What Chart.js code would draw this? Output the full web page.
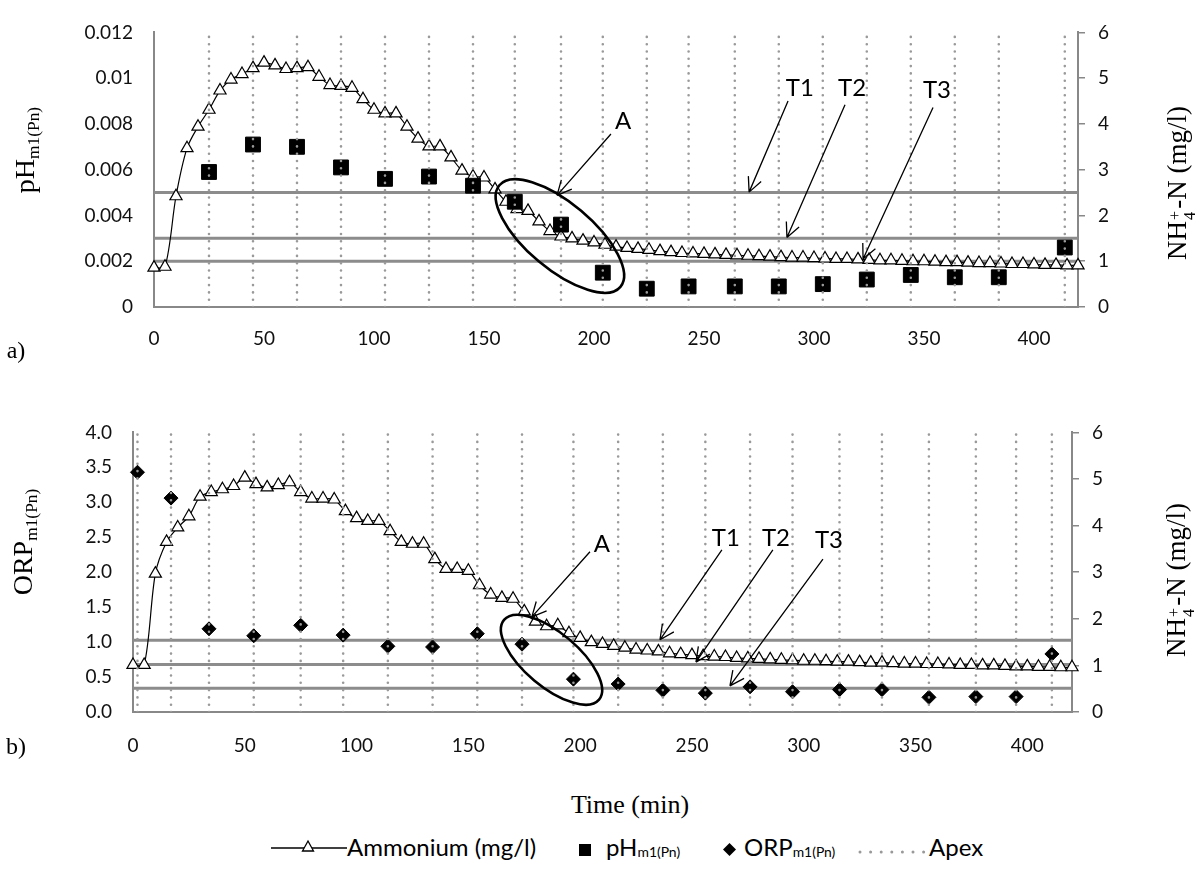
<!DOCTYPE html>
<html>
<head>
<meta charset="utf-8">
<script src="https://cdn.jsdelivr.net/npm/chart.js@4.4.1/dist/chart.umd.min.js"></script>
<style>
body { margin: 0; background: #fff; }
#page { position: relative; width: 1202px; height: 874px; overflow: hidden; font-family: Lato, sans-serif; }
canvas { position: absolute; left: 0; }
#chartA { top: 0; }
#chartB { top: 400px; }
.serif { position: absolute; font-family: "Liberation Serif", "Times New Roman", serif; color: #000; white-space: nowrap; line-height: 1; }
.vt { transform: translate(-50%, -50%) rotate(-90deg); }
.ct { transform: translate(-50%, -50%); }
sub { font-size: 0.62em; vertical-align: -0.28em; line-height: 0; }
.st { display: inline-flex; flex-direction: column; font-size: 0.6em; line-height: 0.95; vertical-align: 0.38em; margin: 0 2px 0 1px; }
.lg { position: absolute; top: 847px; transform: translateY(-50%); font-family: Lato, sans-serif; font-size: 24px; color: #000; white-space: nowrap; line-height: 1; }
.lg sub { font-size: 0.58em; vertical-align: -0.1em; }
</style>
</head>
<body>
<div id="page">
  <canvas id="chartA" width="1202" height="360"></canvas>
  <canvas id="chartB" width="1202" height="370"></canvas>

  <div class="serif vt" style="left:25px;top:150px;font-size:28px">pH<sub>m1(Pn)</sub></div>
  <div class="serif vt" style="left:1181px;top:183px;font-size:27px">NH<span class="st"><span>+</span><span>4</span></span>-N (mg/l)</div>
  <div class="serif ct" style="left:16px;top:350px;font-size:24px">a)</div>

  <div class="serif vt" style="left:23px;top:542px;font-size:28px">ORP<sub>m1(Pn)</sub></div>
  <div class="serif vt" style="left:1180px;top:580px;font-size:27px">NH<span class="st"><span>+</span><span>4</span></span>-N (mg/l)</div>
  <div class="serif ct" style="left:16px;top:746px;font-size:24px">b)</div>

  <div class="serif ct" style="left:630px;top:805px;font-size:26px">Time (min)</div>

  <div class="lg" style="left:271px"><svg width="76" height="20"><line x1="0" y1="12" x2="76" y2="12" stroke="#000" stroke-width="1.3"/><polygon points="37,5 42.5,15 31.5,15" fill="#fff" stroke="#000" stroke-width="1.3"/></svg></div>
  <div class="lg" style="left:347px">Ammonium (mg/l)</div>
  <div class="lg" style="left:579px"><svg width="12" height="12"><rect x="0" y="0" width="12" height="12" fill="#000"/></svg></div>
  <div class="lg" style="left:606px">pH<sub>m1(Pn)</sub></div>
  <div class="lg" style="left:723px"><svg width="13" height="13"><polygon points="6.5,0 13,6.5 6.5,13 0,6.5" fill="#000"/></svg></div>
  <div class="lg" style="left:744px">ORP<sub>m1(Pn)</sub></div>
  <div class="lg" style="left:858px"><svg width="68" height="8"><line x1="2" y1="4" x2="66" y2="4" stroke="#999" stroke-width="3" stroke-linecap="round" stroke-dasharray="0 10.6"/></svg></div>
  <div class="lg" style="left:929px">Apex</div>
</div>

<script>
// time of the ammonium readings (min)
const minutes = [0, 5, 10, 15, 20, 25, 30, 35, 40, 45, 50, 55, 60, 65, 70, 75, 80, 85, 90, 95,
    100, 105, 110, 115, 120, 125, 130, 135, 140, 145, 150, 155, 160, 165, 170, 175, 180, 185, 190, 195,
    200, 205, 210, 215, 220, 225, 230, 235, 240, 245, 250, 255, 260, 265, 270, 275, 280, 285, 290, 295,
    300, 305, 310, 315, 320, 325, 330, 335, 340, 345, 350, 355, 360, 365, 370, 375, 380, 385, 390, 395,
    400, 405, 410, 415, 420];

// a) ammonium (mg/l)
const ammoniumA = [0.86, 0.88, 2.42, 3.47, 3.94, 4.31, 4.73, 4.97, 5.09, 5.22,
    5.34, 5.28, 5.20, 5.22, 5.24, 5.03, 4.85, 4.83, 4.79, 4.54,
    4.31, 4.23, 4.23, 3.94, 3.68, 3.51, 3.51, 3.27, 2.98, 2.85,
    2.83, 2.57, 2.30, 2.14, 2.10, 1.87, 1.66, 1.54, 1.50, 1.45,
    1.41, 1.36, 1.32, 1.29, 1.27, 1.25, 1.22, 1.20, 1.18, 1.17,
    1.16, 1.15, 1.14, 1.13, 1.12, 1.11, 1.10, 1.09, 1.08, 1.08,
    1.07, 1.06, 1.05, 1.05, 1.04, 1.03, 1.02, 1.02, 1.01, 1.00,
    1.00, 0.99, 0.98, 0.98, 0.97, 0.96, 0.96, 0.95, 0.94, 0.94,
    0.93, 0.92, 0.92, 0.91, 0.91];

// b) ammonium (mg/l)
const ammoniumB = [1.01, 1.01, 2.97, 3.65, 3.96, 4.20, 4.62, 4.72, 4.78, 4.85,
    5.03, 4.89, 4.82, 4.87, 4.93, 4.72, 4.58, 4.58, 4.56, 4.31,
    4.16, 4.10, 4.10, 3.88, 3.65, 3.61, 3.61, 3.28, 3.07, 3.07,
    3.03, 2.72, 2.52, 2.45, 2.43, 2.16, 1.94, 1.84, 1.86, 1.69,
    1.59, 1.50, 1.46, 1.42, 1.38, 1.34, 1.32, 1.30, 1.26, 1.24,
    1.22, 1.20, 1.19, 1.18, 1.16, 1.15, 1.14, 1.13, 1.12, 1.11,
    1.10, 1.10, 1.09, 1.08, 1.08, 1.07, 1.06, 1.06, 1.05, 1.04,
    1.04, 1.03, 1.03, 1.02, 1.01, 1.01, 1.00, 1.00, 0.99, 0.98,
    0.98, 0.97, 0.97, 0.96, 0.96];

// a) pH apexes
const phTimes = [25, 45, 65, 85, 105, 125, 145, 164, 185, 204, 224, 243, 264, 284, 304, 324, 344, 364, 384, 414];
const phValues = [0.0059, 0.0071, 0.0070, 0.0061, 0.0056, 0.0057, 0.0053, 0.0046, 0.0036, 0.0015,
    0.0008, 0.0009, 0.0009, 0.0009, 0.0010, 0.0012, 0.0014, 0.0013, 0.0013, 0.0026];

// b) ORP apexes
const orpTimes = [2, 17, 34, 54, 75, 94, 114, 134, 154, 174, 197, 217, 237, 256, 276, 295, 316, 335, 356, 377, 395, 411];
const orpValues = [3.43, 3.06, 1.19, 1.09, 1.24, 1.10, 0.94, 0.93, 1.12, 0.97, 0.47,
    0.40, 0.31, 0.27, 0.36, 0.29, 0.32, 0.32, 0.21, 0.22, 0.22, 0.83];

// T1, T2, T3 levels (mg/l)
const thresholdsA = [2.5, 1.5, 1.0];
const thresholdsB = [1.54, 1.02, 0.51];

const axisGray = '#888';
const tickFont = { family: 'Lato', size: 19 };

function apexPoints(times, top) {
    let pts = [];
    times.forEach(t => {
        pts.push({ x: t, y: 0 }, { x: t, y: top }, { x: t, y: null });
    });
    return pts;
}

function levelPoints(levels) {
    let pts = [];
    levels.forEach(v => {
        pts.push({ x: 0, y: v }, { x: 420, y: v }, { x: 420, y: null });
    });
    return pts;
}

// ellipse, arrows and labels, given in data units of x / y2
const notes = {
    id: 'notes',
    afterDatasetsDraw(chart, args, opts) {
        const ctx = chart.ctx;
        const px = v => chart.scales.x.getPixelForValue(v);
        const py = v => chart.scales.y2.getPixelForValue(v);
        ctx.save();
        ctx.strokeStyle = '#000';
        ctx.fillStyle = '#000';
        let e = opts.ellipse;
        ctx.beginPath();
        ctx.ellipse(px(e.at[0]), py(e.at[1]), e.rx, e.ry, e.rot * Math.PI / 180, 0, Math.PI * 2);
        ctx.lineWidth = 2.6;
        ctx.stroke();

        ctx.font = '24px Lato';
        ctx.textAlign = 'center';
        ctx.textBaseline = 'middle';
        for (let a of opts.arrows) {
            let x1 = px(a.from[0]), y1 = py(a.from[1]);
            let x2 = px(a.to[0]), y2 = py(a.to[1]);
            let ang = Math.atan2(y2 - y1, x2 - x1);
            ctx.beginPath();
            ctx.moveTo(x1, y1);
            ctx.lineTo(x2, y2);
            for (let s of [-1, 1]) {
                ctx.moveTo(x2, y2);
                ctx.lineTo(x2 - 16 * Math.cos(ang + s * 0.45), y2 - 16 * Math.sin(ang + s * 0.45));
            }
            ctx.lineWidth = 1.3;
            ctx.stroke();
            ctx.fillText(a.text, px(a.label[0]), py(a.label[1]));
        }
        ctx.restore();
    }
};

function makeChart(id, cfg) {
    return new Chart(document.getElementById(id), {
        type: 'scatter',
        data: {
            datasets: [{
                label: 'Apex',
                data: apexPoints(cfg.apexTimes, cfg.leftMax),
                yAxisID: 'y',
                showLine: true,
                borderColor: '#9a9a9a',
                borderWidth: 2.6,
                borderDash: [0, 7.3],
                borderCapStyle: 'round',
                pointRadius: 0,
                order: 0
            }, {
                label: cfg.markerLabel,
                data: cfg.apexTimes.map((t, i) => ({ x: t, y: cfg.markerValues[i] })),
                yAxisID: 'y',
                pointStyle: cfg.markerStyle,
                pointRadius: cfg.markerRadius,
                backgroundColor: '#000',
                borderColor: '#000',
                borderWidth: 1,
                clip: false,
                order: 1
            }, {
                label: 'Ammonium (mg/l)',
                data: minutes.map((t, i) => ({ x: t, y: cfg.ammonium[i] })),
                yAxisID: 'y2',
                showLine: true,
                tension: 0.3,
                borderColor: '#000',
                borderWidth: 1.2,
                pointStyle: 'triangle',
                pointRadius: 7,
                pointBackgroundColor: '#fff',
                pointBorderColor: '#000',
                pointBorderWidth: 1.2,
                clip: false,
                order: 2
            }, {
                label: 'T',
                data: levelPoints(cfg.levels),
                yAxisID: 'y2',
                showLine: true,
                borderColor: '#8c8c8c',
                borderWidth: 3,
                pointRadius: 0,
                order: 3
            }]
        },
        options: {
            responsive: false,
            animation: false,
            layout: { padding: { top: cfg.padTop, left: 0, right: 0, bottom: 0 } },
            plugins: {
                legend: { display: false },
                tooltip: { enabled: false },
                notes: cfg.notes
            },
            scales: {
                x: {
                    type: 'linear',
                    min: 0,
                    max: 420,
                    grid: { display: false, drawTicks: false },
                    border: { color: axisGray, width: 2 },
                    ticks: { stepSize: 50, includeBounds: false, font: tickFont, color: '#111', padding: cfg.xPad },
                    afterFit: scale => { scale.height = cfg.xHeight; }
                },
                y: {
                    position: 'left',
                    min: 0,
                    max: cfg.leftMax,
                    grid: { display: false, drawTicks: false },
                    border: { color: axisGray, width: 2 },
                    ticks: { stepSize: cfg.leftStep, includeBounds: false, font: tickFont, color: '#111', padding: 21, callback: cfg.leftFormat },
                    afterFit: scale => { scale.width = cfg.leftWidth; }
                },
                y2: {
                    position: 'right',
                    min: 0,
                    max: 6,
                    grid: { display: true, drawOnChartArea: false, drawTicks: true, tickLength: 7, color: axisGray, lineWidth: 1.5 },
                    border: { color: axisGray, width: 2 },
                    ticks: { stepSize: 1, font: tickFont, color: '#111', padding: 13 },
                    afterFit: scale => { scale.width = cfg.rightWidth; }
                }
            }
        },
        plugins: [notes]
    });
}

makeChart('chartA', {
    apexTimes: phTimes,
    markerValues: phValues,
    markerLabel: 'pHm1(Pn)',
    markerStyle: 'rect',
    markerRadius: 10.5,
    ammonium: ammoniumA,
    levels: thresholdsA,
    leftMax: 0.012,
    leftStep: 0.002,
    leftFormat: v => String(Number(v.toFixed(3))),
    leftWidth: 154,
    rightWidth: 124,
    padTop: 15,
    xHeight: 53,
    xPad: 20,
    notes: {
        ellipse: { at: [184.5, 1.55], rx: 79, ry: 33, rot: 40 },
        arrows: [
            { text: 'A', label: [213.2, 4.05], from: [207.7, 3.78], to: [183.2, 2.44] },
            { text: 'T1', label: [293.6, 4.79], from: [288.2, 4.50], to: [270.5, 2.51] },
            { text: 'T2', label: [317.3, 4.77], from: [314.1, 4.42], to: [287.7, 1.52] },
            { text: 'T3', label: [355.9, 4.73], from: [354.1, 4.36], to: [322.3, 1.05] }
        ]
    }
});

makeChart('chartB', {
    apexTimes: orpTimes,
    markerValues: orpValues,
    markerLabel: 'ORPm1(Pn)',
    markerStyle: 'rectRot',
    markerRadius: 7,
    ammonium: ammoniumB,
    levels: thresholdsB,
    leftMax: 4,
    leftStep: 0.5,
    leftFormat: v => v.toFixed(1),
    leftWidth: 133,
    rightWidth: 130,
    padTop: 22,
    xHeight: 58,
    xPad: 22,
    notes: {
        ellipse: { at: [187.2, 1.12], rx: 62, ry: 27, rot: 40 },
        arrows: [
            { text: 'A', label: [209.7, 3.61], from: [204.4, 3.44], to: [178.4, 2.04] },
            { text: 'T1', label: [265.2, 3.73], from: [263.4, 3.48], to: [235.7, 1.55] },
            { text: 'T2', label: [287.6, 3.73], from: [286.2, 3.48], to: [251.8, 1.07] },
            { text: 'T3', label: [311.3, 3.69], from: [308.6, 3.28], to: [267.0, 0.56] }
        ]
    }
});
</script>
</body>
</html>
